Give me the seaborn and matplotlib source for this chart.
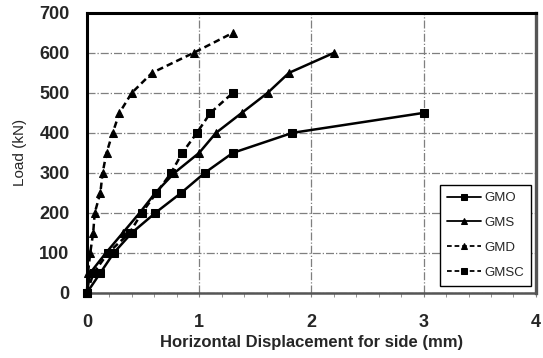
import numpy as np
import pandas as pd
import matplotlib
matplotlib.use('Agg')
import matplotlib.pyplot as plt
import seaborn as sns
from matplotlib.ticker import MultipleLocator

# ── data ───────────────────────────────────────────────────────
gmo_x = [0, 0.12, 0.24, 0.40, 0.61, 0.84, 1.05, 1.30, 1.83, 3.0]
gmo_y = [0, 50, 100, 150, 200, 250, 300, 350, 400, 450]

gms_x = [0, 0.03, 0.17, 0.32, 0.47, 0.61, 0.78, 1.0, 1.15, 1.38, 1.61, 1.80, 2.2]
gms_y = [0, 50, 100, 150, 200, 250, 300, 350, 400, 450, 500, 550, 600]

gmd_x = [0, 0.01, 0.03, 0.056, 0.07, 0.12, 0.14, 0.175, 0.23, 0.29, 0.40, 0.58, 0.95, 1.30]
gmd_y = [0, 50, 100, 150, 200, 250, 300, 350, 400, 450, 500, 550, 600, 650]

gmsc_x = [0, 0.06, 0.19, 0.38, 0.49, 0.62, 0.75, 0.85, 0.98, 1.10, 1.30]
gmsc_y = [0, 50, 100, 150, 200, 250, 300, 350, 400, 450, 500]

series = [
    ('GMO', gmo_x, gmo_y, 's', '-'),
    ('GMS', gms_x, gms_y, '^', '-'),
    ('GMD', gmd_x, gmd_y, '^', (0, (2.6, 1.6))),
    ('GMSC', gmsc_x, gmsc_y, 's', (0, (2.6, 1.6))),
]

sns.set_style('white')
plt.rcParams['font.family'] = ['Liberation Sans', 'DejaVu Sans']

fig = plt.figure(figsize=(5.43, 3.58), dpi=100)
ax = fig.add_axes([0.160, 0.182, 0.827, 0.782])

for name, xs, ys, mk, ls in series:
    df = pd.DataFrame({'x': xs, 'y': ys})
    sns.lineplot(data=df, x='x', y='y', ax=ax, color='black', marker=mk,
                 markersize=6, markeredgecolor='black', linestyle=ls,
                 linewidth=1.8, label=name, estimator=None, sort=False,
                 clip_on=False, zorder=3)

ax.set_xlim(0, 4)
ax.set_ylim(0, 700)
ax.xaxis.set_major_locator(MultipleLocator(1))
ax.xaxis.set_minor_locator(MultipleLocator(0.2))
ax.yaxis.set_major_locator(MultipleLocator(100))

ax.grid(True, which='major', color='#7f7f7f', linestyle='-.', linewidth=0.9)
ax.tick_params(axis='x', which='both', direction='out', color='#808080',
               bottom=True, labelsize=13, pad=12)
ax.tick_params(axis='x', which='major', length=3)
ax.tick_params(axis='x', which='minor', length=3)
ax.tick_params(axis='y', left=False, labelsize=13, pad=9)
for lab in ax.get_xticklabels() + ax.get_yticklabels():
    lab.set_fontweight('bold')

ax.spines['left'].set_linewidth(2.2)
ax.spines['left'].set_color('black')
ax.spines['top'].set_linewidth(2.2)
ax.spines['top'].set_color('black')
ax.spines['right'].set_linewidth(2.4)
ax.spines['right'].set_color('#555555')
ax.spines['bottom'].set_linewidth(1.8)
ax.spines['bottom'].set_color('#555555')

ax.set_xlabel('Horizontal Displacement for side (mm)', fontsize=12,
              fontweight='bold', labelpad=3)
ax.set_ylabel('Load (kN)', fontsize=11, labelpad=9)

leg = ax.legend(loc='lower right', bbox_to_anchor=(0.99, 0.025), fontsize=9.5,
                handlelength=2.6, labelspacing=0.95, borderpad=0.55,
                handletextpad=0.25, borderaxespad=0, fancybox=False,
                framealpha=1, edgecolor='black')
leg.get_frame().set_linewidth(1.0)
leg.set_zorder(5)
for h in leg.get_lines():
    h.set_linewidth(1.3)
    h.set_markersize(5)

plt.savefig('out.png', dpi=100)
